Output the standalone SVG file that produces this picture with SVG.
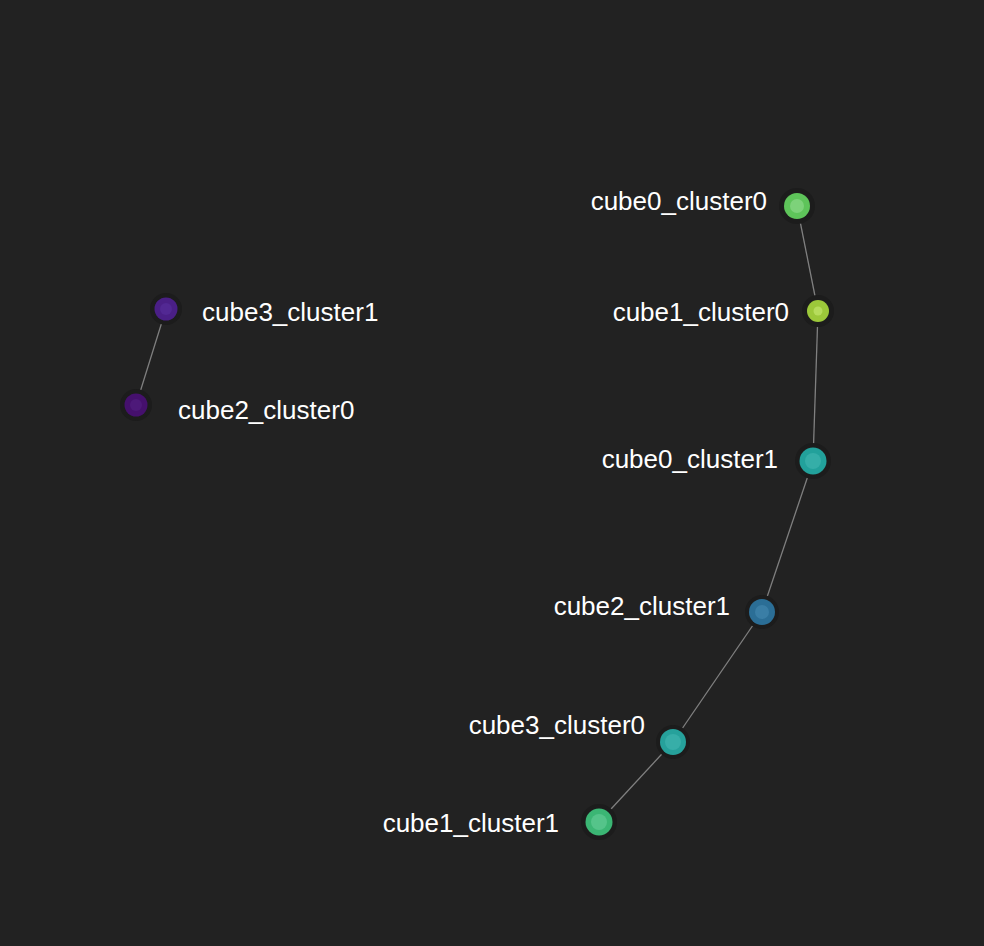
<svg xmlns="http://www.w3.org/2000/svg" width="984" height="946" viewBox="0 0 984 946">
<style>
.bg{fill:#222222}
.edge{stroke:#808080;stroke-width:1.3;fill:none}
.halo{fill:#1c1c1c}
.lbl{font-family:"Liberation Sans",Arial,sans-serif;font-size:26px;fill:#ffffff}
.r{text-anchor:end}
</style>
<rect class="bg" width="984" height="946"/>
<g id="edges">
<line class="edge" x1="797" y1="206" x2="818" y2="311"/>
<line class="edge" x1="818" y1="311" x2="813" y2="461"/>
<line class="edge" x1="813" y1="461" x2="762" y2="612"/>
<line class="edge" x1="762" y1="612" x2="673" y2="742"/>
<line class="edge" x1="673" y1="742" x2="599" y2="822"/>
<line class="edge" x1="166" y1="309" x2="136" y2="405"/>
</g>
<g id="cube0_cluster0">
<circle class="halo" cx="797" cy="206" r="18"/>
<circle cx="797" cy="206" r="13" fill="#5ec45a"/>
<circle cx="797" cy="206" r="7" fill="#7dd27a"/>
<text class="lbl r" x="767" y="210">cube0_cluster0</text>
</g>
<g id="cube1_cluster0">
<circle class="halo" cx="818" cy="311" r="16"/>
<circle cx="818" cy="311" r="11" fill="#9cc83a"/>
<circle cx="818" cy="311" r="4.5" fill="#b6dc5c"/>
<text class="lbl r" x="789" y="321">cube1_cluster0</text>
</g>
<g id="cube0_cluster1">
<circle class="halo" cx="813" cy="461" r="18"/>
<circle cx="813" cy="461" r="13.5" fill="#22a19b"/>
<circle cx="813" cy="461" r="8" fill="#35aea8"/>
<text class="lbl r" x="778" y="468">cube0_cluster1</text>
</g>
<g id="cube2_cluster1">
<circle class="halo" cx="762" cy="612" r="17"/>
<circle cx="762" cy="612" r="13" fill="#2b6e96"/>
<circle cx="762" cy="612" r="7" fill="#3a7ea6"/>
<text class="lbl r" x="730" y="615">cube2_cluster1</text>
</g>
<g id="cube3_cluster0">
<circle class="halo" cx="673" cy="742" r="17"/>
<circle cx="673" cy="742" r="13" fill="#26a19b"/>
<circle cx="673" cy="742" r="8" fill="#37aea8"/>
<text class="lbl r" x="645" y="734">cube3_cluster0</text>
</g>
<g id="cube1_cluster1">
<circle class="halo" cx="599" cy="822" r="18"/>
<circle cx="599" cy="822" r="13.5" fill="#3bb674"/>
<circle cx="599" cy="822" r="8" fill="#55c48a"/>
<text class="lbl r" x="559" y="832">cube1_cluster1</text>
</g>
<g id="cube3_cluster1">
<circle class="halo" cx="166" cy="309" r="16"/>
<circle cx="166" cy="309" r="11.5" fill="#4a1f86"/>
<circle cx="166" cy="309" r="6" fill="#522893"/>
<text class="lbl" x="202" y="321">cube3_cluster1</text>
</g>
<g id="cube2_cluster0">
<circle class="halo" cx="136" cy="405" r="16"/>
<circle cx="136" cy="405" r="11.5" fill="#45106d"/>
<circle cx="136" cy="405" r="6" fill="#4d1979"/>
<text class="lbl" x="178" y="419">cube2_cluster0</text>
</g>
</svg>
